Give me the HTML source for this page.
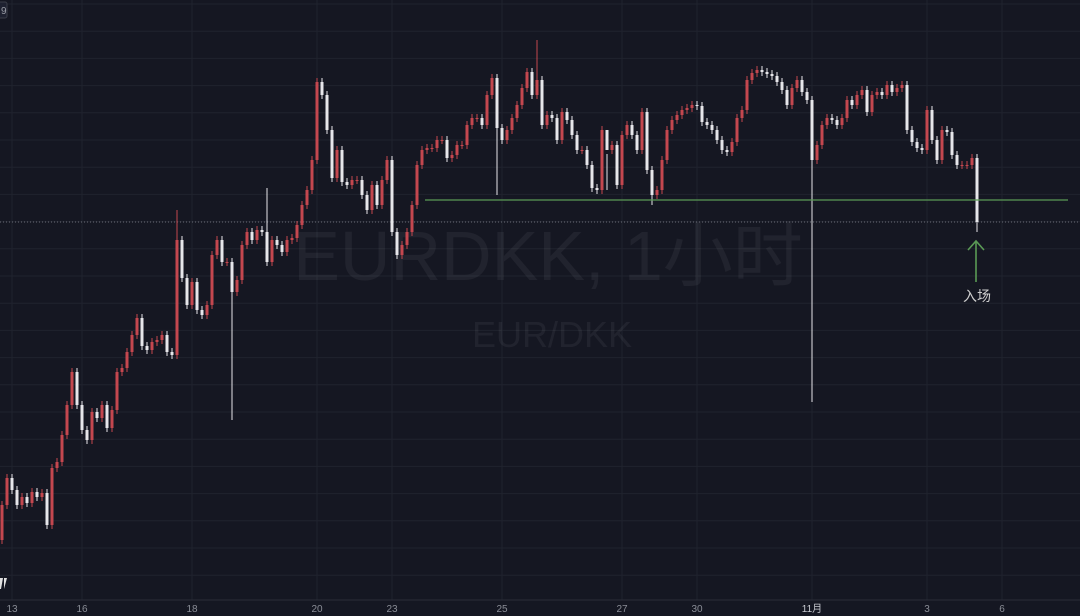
<!DOCTYPE html>
<html><head><meta charset="utf-8">
<style>
html,body{margin:0;padding:0;background:#151722;overflow:hidden}
svg{display:block}
text{font-family:"Liberation Sans","Noto Sans CJK SC",sans-serif}
</style></head>
<body>
<svg id="chart" width="1080" height="616" viewBox="0 0 1080 616" xmlns="http://www.w3.org/2000/svg">
<rect width="1080" height="616" fill="#151722"/>
<g id="grid"></g>
<text x="548" y="280" text-anchor="middle" font-size="70" fill="#ffffff" fill-opacity="0.055">EURDKK, 1小时</text>
<text x="552" y="347" text-anchor="middle" font-size="36" fill="#ffffff" fill-opacity="0.055">EUR/DKK</text>
<line x1="0" y1="222" x2="1080" y2="222" stroke="#6a6d78" stroke-width="1" stroke-dasharray="1,2"/>
<g id="candles"></g>
<line id="support" x1="425" x2="1068" stroke="#5a9a55" stroke-width="1.3"/>
<g stroke="#5a9a55" stroke-width="1.6" fill="none">
<line x1="976" y1="282" x2="976" y2="242"/>
<polyline points="968,250 976,241 984,250"/>
</g>
<text x="977" y="301" text-anchor="middle" font-size="14" fill="#d0d0d0">入场</text>
<line x1="0" y1="600" x2="1080" y2="600" stroke="#2a2d38"/>
<g id="xaxis"></g>
<path d="M0,578 L3,578 L1,589 L0,589 Z M4,578 L7,578 L4,589 Z" fill="#e0e0e0"/>
<rect x="-4" y="2" width="11" height="16" rx="2" fill="#1e2130" stroke="#3a3d48"/>
<text x="1" y="14" font-size="10" fill="#9a9da6">9</text>
</svg>
<script>
const closes = [95,122,110,95,103,97,108,103,107,75,132,138,165,195,228,195,170,160,188,182,195,172,190,228,232,248,265,282,254,250,258,260,265,248,245,360,322,295,318,290,285,295,345,360,338,338,308,320,355,368,360,370,368,338,360,355,348,360,362,375,395,410,440,518,505,470,422,450,418,415,420,420,405,390,415,395,420,440,368,345,355,368,395,435,450,452,452,460,460,442,445,455,455,475,482,482,475,505,522,472,460,470,482,495,512,528,505,520,475,485,482,460,488,480,465,450,450,435,412,410,470,450,455,415,465,475,465,450,488,430,405,410,440,470,480,485,490,492,495,494,478,475,470,460,450,448,458,482,490,520,527,530,528,526,524,518,510,495,512,520,508,500,440,455,475,482,480,475,482,500,495,505,510,488,505,508,505,515,508,512,515,470,458,452,450,490,460,440,470,468,445,435,435,435,442,378];
const firstOpen = 60;
const extHighIdx = [35,53,107,121];
const extHighVal = [390,412,560,410];
const extLowIdx = [46,99,130,162,195];
const extLowVal = [180,405,395,198,368];
const supportLevel = 400;
const xTickLabels = ["13","16","18","20","23","25","27","30","11月","3","6"];
const xTickIdx = [2,16,38,63,78,100,124,139,162,185,200];

const NS="http://www.w3.org/2000/svg";
const vMax=600, x0=2, step=5;
function yS(v){return vMax - v;}
function xS(i){return x0 + step*i;}

const grid=document.getElementById('grid');
for(let k=0;k<22;k++){
  const y=4+27.2*k; if(y>600)break;
  const l=document.createElementNS(NS,'line');
  l.setAttribute('x1',0);l.setAttribute('x2',1080);l.setAttribute('y1',y);l.setAttribute('y2',y);
  l.setAttribute('stroke','#20232e');
  
  
  grid.appendChild(l);
}
const xaxis=document.getElementById('xaxis');
xTickIdx.forEach((ti,k)=>{
  const x=xS(ti)+(k===0?0:0);
  const l=document.createElementNS(NS,'line');
  l.setAttribute('x1',x);l.setAttribute('x2',x);l.setAttribute('y1',0);l.setAttribute('y2',600);
  l.setAttribute('stroke','#20232e');
  
  
  grid.appendChild(l);
  const t=document.createElementNS(NS,'text');
  t.setAttribute('x',x);t.setAttribute('y',612);t.setAttribute('text-anchor','middle');
  t.setAttribute('font-size','10');t.setAttribute('fill',xTickLabels[k]==='11月'?'#c8cad0':'#8a8d96');
  t.textContent=xTickLabels[k];
  
  
  xaxis.appendChild(t);
});

const cg=document.getElementById('candles');
closes.forEach((c,i)=>{
  const o = i===0?firstOpen:closes[i-1];
  let hi=Math.max(o,c)+4, lo=Math.min(o,c)-4;
  const hI=extHighIdx.indexOf(i); if(hI>=0) hi=extHighVal[hI];
  const lI=extLowIdx.indexOf(i); if(lI>=0) lo=extLowVal[lI];
  const up=c>=o, col=up?'#c4474f':'#e6e6ea';
  const x=xS(i);
  const g=document.createElementNS(NS,'g');
  
  
  const w=document.createElementNS(NS,'line');
  w.setAttribute('x1',x);w.setAttribute('x2',x);w.setAttribute('y1',yS(hi));w.setAttribute('y2',yS(lo));
  w.setAttribute('stroke',col);w.setAttribute('stroke-width','1');
  g.appendChild(w);
  const b=document.createElementNS(NS,'rect');
  const top=yS(Math.max(o,c)), bh=Math.max(1,Math.abs(o-c));
  b.setAttribute('x',x-1.5);b.setAttribute('y',top);b.setAttribute('width',3);b.setAttribute('height',bh);
  b.setAttribute('fill',col);
  g.appendChild(b);
  cg.appendChild(g);
});
const s=document.getElementById('support');
s.setAttribute('y1',yS(supportLevel));s.setAttribute('y2',yS(supportLevel));
</script>
</body></html>
